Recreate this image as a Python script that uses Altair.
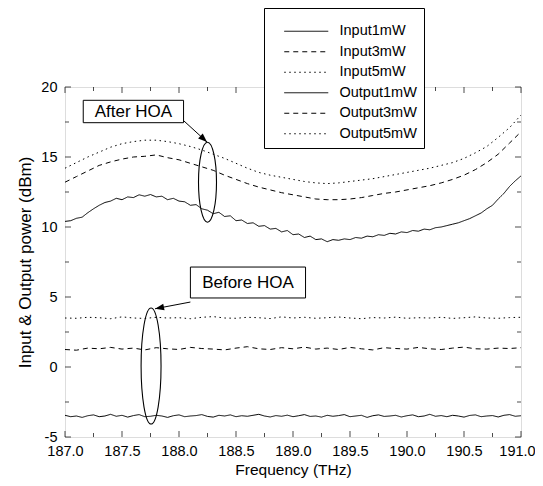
import altair as alt
import pandas as pd

# ---------------- data ----------------
freq_fine = [187.00, 187.05, 187.10, 187.15, 187.20, 187.25, 187.30, 187.35, 187.40, 187.45,
             187.50, 187.55, 187.60, 187.65, 187.70, 187.75, 187.80, 187.85, 187.90, 187.95,
             188.00, 188.05, 188.10, 188.15, 188.20, 188.25, 188.30, 188.35, 188.40, 188.45,
             188.50, 188.55, 188.60, 188.65, 188.70, 188.75, 188.80, 188.85, 188.90, 188.95,
             189.00, 189.05, 189.10, 189.15, 189.20, 189.25, 189.30, 189.35, 189.40, 189.45,
             189.50, 189.55, 189.60, 189.65, 189.70, 189.75, 189.80, 189.85, 189.90, 189.95,
             190.00, 190.05, 190.10, 190.15, 190.20, 190.25, 190.30, 190.35, 190.40, 190.45,
             190.50, 190.55, 190.60, 190.65, 190.70, 190.75, 190.80, 190.85, 190.90, 190.95,
             191.00]

freq_coarse = [187.0, 187.1, 187.2, 187.3, 187.4, 187.5, 187.6, 187.7, 187.8, 187.9,
               188.0, 188.1, 188.2, 188.3, 188.4, 188.5, 188.6, 188.7, 188.8, 188.9,
               189.0, 189.1, 189.2, 189.3, 189.4, 189.5, 189.6, 189.7, 189.8, 189.9,
               190.0, 190.1, 190.2, 190.3, 190.4, 190.5, 190.6, 190.7, 190.8, 190.9,
               191.0]

input_1mw = [-3.45, -3.55, -3.50, -3.60, -3.48, -3.42, -3.55, -3.50, -3.38, -3.52,
             -3.45, -3.58, -3.47, -3.40, -3.55, -3.52, -3.45, -3.50, -3.60, -3.48,
             -3.42, -3.55, -3.50, -3.47, -3.40, -3.53, -3.58, -3.45, -3.50, -3.42,
             -3.55, -3.48, -3.52, -3.45, -3.38, -3.50, -3.57, -3.47, -3.52, -3.44,
             -3.55, -3.48, -3.40, -3.53, -3.50, -3.58, -3.45, -3.52, -3.47, -3.40,
             -3.55, -3.50, -3.45, -3.60, -3.48, -3.42, -3.53, -3.50, -3.45, -3.57,
             -3.48, -3.42, -3.55, -3.50, -3.38, -3.52, -3.47, -3.55, -3.45, -3.50,
             -3.58, -3.46, -3.42, -3.55, -3.50, -3.47, -3.57, -3.45, -3.40, -3.52,
             -3.48]

output_1mw = [10.40, 10.45, 10.62, 10.70, 11.02, 11.30, 11.55, 11.75, 11.85, 12.05,
              11.95, 12.15, 12.10, 12.30, 12.20, 12.32, 12.15, 12.20, 11.95, 12.05,
              11.85, 11.80, 11.55, 11.60, 11.30, 11.20, 10.95, 11.05, 10.75, 10.80,
              10.45, 10.50, 10.25, 10.30, 10.05, 10.10, 9.85, 9.90, 9.65, 9.75,
              9.45, 9.50, 9.25, 9.35, 9.10, 9.15, 8.95, 9.10, 9.05, 9.15,
              9.10, 9.25, 9.20, 9.35, 9.30, 9.45, 9.40, 9.55, 9.50, 9.65,
              9.60, 9.75, 9.70, 9.85, 9.80, 9.95, 10.00, 10.10, 10.20, 10.30,
              10.45, 10.60, 10.80, 11.00, 11.30, 11.55, 12.00, 12.40, 12.90, 13.30,
              13.65]

input_3mw = [1.25, 1.20, 1.35, 1.30, 1.40, 1.28, 1.35, 1.22, 1.38, 1.30,
             1.25, 1.40, 1.32, 1.28, 1.22, 1.35, 1.45, 1.30, 1.25, 1.38,
             1.30, 1.42, 1.28, 1.35, 1.25, 1.40, 1.30, 1.22, 1.38, 1.32,
             1.28, 1.40, 1.30, 1.25, 1.35, 1.42, 1.30, 1.28, 1.35, 1.32,
             1.38]

input_5mw = [3.50, 3.48, 3.55, 3.52, 3.45, 3.58, 3.50, 3.47, 3.55, 3.50,
             3.52, 3.45, 3.55, 3.60, 3.50, 3.48, 3.55, 3.52, 3.46, 3.58,
             3.50, 3.55, 3.48, 3.52, 3.57, 3.50, 3.45, 3.53, 3.50, 3.56,
             3.48, 3.52, 3.50, 3.55, 3.47, 3.52, 3.58, 3.50, 3.48, 3.53,
             3.55]

output_3mw = [13.2, 13.6, 14.0, 14.4, 14.65, 14.85, 15.0, 15.05, 15.15, 14.95,
              14.8, 14.55, 14.3, 14.05, 13.7, 13.4, 13.1, 12.85, 12.65, 12.45,
              12.3, 12.15, 12.0, 11.95, 11.95, 12.0, 12.1, 12.25, 12.4, 12.5,
              12.65, 12.8, 12.95, 13.15, 13.4, 13.7, 14.1, 14.6, 15.2, 16.0,
              16.8]

output_5mw = [14.2, 14.6, 15.0, 15.35, 15.7, 15.95, 16.1, 16.2, 16.2, 16.1,
              15.95, 15.75, 15.5, 15.2, 14.9, 14.55, 14.2, 13.9, 13.7, 13.55,
              13.4, 13.25, 13.15, 13.1, 13.15, 13.25, 13.35, 13.45, 13.6, 13.75,
              13.9, 14.05, 14.2, 14.4, 14.6, 14.9, 15.3, 15.75, 16.4, 17.1,
              18.0]

series_order = ["Input1mW", "Input3mW", "Input5mW", "Output1mW", "Output3mW", "Output5mW"]

x_major = [187.0, 187.5, 188.0, 188.5, 189.0, 189.5, 190.0, 190.5, 191.0]
x_minor = [187.25, 187.75, 188.25, 188.75, 189.25, 189.75, 190.25, 190.75]
y_major = [-5, 0, 5, 10, 15, 20]
y_minor = [-2.5, 2.5, 7.5, 12.5, 17.5]

# annotations (data coordinates)
box_labels = ["After HOA", "Before HOA"]
box_x0 = [187.16, 188.10]
box_x1 = [188.04, 189.11]
box_y0 = [17.45, 4.93]
box_y1 = [19.05, 7.14]

ellipse_x = [188.25, 187.755]
ellipse_y = [13.2, 0.07]

arrow_x0 = [188.04, 188.10]
arrow_y0 = [17.6, 4.64]
arrow_x1 = [188.246, 187.79]
arrow_y1 = [16.07, 4.16]

# ---------------- build table ----------------
rows = []
for name, xs, vals in [("Input1mW", freq_fine, input_1mw),
                       ("Output1mW", freq_fine, output_1mw),
                       ("Input3mW", freq_coarse, input_3mw),
                       ("Input5mW", freq_coarse, input_5mw),
                       ("Output3mW", freq_coarse, output_3mw),
                       ("Output5mW", freq_coarse, output_5mw)]:
    for f, v in zip(xs, vals):
        rows.append({"freq": f, "power": v, "series": name})
df = pd.DataFrame(rows)

FONT = "Liberation Sans"
XT = "Frequency (THz)"
YT = "Input & Output power (dBm)"

xscale = alt.Scale(domain=[187, 191], nice=False, zero=False)
yscale = alt.Scale(domain=[-5, 20], nice=False, zero=False)

xaxis = alt.Axis(values=x_major, labelExpr="format(datum.value, '.1f')", labelFlush=False,
                 labelOverlap=False, labelPadding=7, tickSize=0, ticks=False, domain=False,
                 grid=False, labelFont=FONT, labelFontSize=14.5, labelColor="black",
                 labelOffset={"condition": {"test": "datum.value == 191", "value": -4}, "value": 0},
                 titleFont=FONT, titleY=32, titleBaseline="middle", titleFontSize=15.5,
                 titleFontWeight="normal", titleColor="black")
yaxis = alt.Axis(values=y_major, labelExpr="'' + datum.value", labelFlush=False,
                 labelOverlap=False, labelPadding=8, tickSize=0, ticks=False, domain=False,
                 grid=False, labelFont=FONT, labelFontSize=14.5, labelColor="black",
                 titleFont=FONT, titleX=-40, titleY=175, titleAngle=270, titleAlign="center",
                 titleBaseline="middle", titleFontSize=17, titleFontWeight="normal",
                 titleColor="black")


def X(field):
    return alt.X(field, type="quantitative", scale=xscale, axis=xaxis, title=XT)


def Y(field):
    return alt.Y(field, type="quantitative", scale=yscale, axis=yaxis, title=YT)


dash_range = [[1, 0], [5, 4], [1.5, 3.5], [1, 0], [5, 4], [1.5, 3.5]]

lines = alt.Chart(df).mark_line(color="black", strokeWidth=1).encode(
    x=X("freq"),
    y=Y("power"),
    detail="series:N",
    strokeDash=alt.StrokeDash(
        "series:N",
        scale=alt.Scale(domain=series_order, range=dash_range),
        legend=alt.Legend(
            title=" ", titleFontSize=6, titlePadding=3,
            orient="none", legendX=199, legendY=-79,
            strokeColor="black", fillColor="white", padding=7,
            symbolType="M-4,0 L4,0", symbolSize=121, symbolStrokeWidth=1,
            symbolStrokeColor="black", symbolFillColor="transparent",
            labelFontSize=14.5, labelFont=FONT, labelColor="black",
            labelOffset=26, symbolOffset=28, rowPadding=5.5,
            labelExpr="datum.label + ' '",
        ),
    ),
)

# inward ticks
xmaj_df = pd.DataFrame({"freq": x_major})
xmin_df = pd.DataFrame({"freq": x_minor})
ymaj_df = pd.DataFrame({"power": y_major})
ymin_df = pd.DataFrame({"power": y_minor})

tick_layers = [
    alt.Chart(xmaj_df).mark_tick(orient="vertical", size=6, thickness=1, yOffset=-3, color="black").encode(x=X("freq"), y=alt.datum(-5)),
    alt.Chart(xmaj_df).mark_tick(orient="vertical", size=6, thickness=1, yOffset=3, color="black").encode(x=X("freq"), y=alt.datum(20)),
    alt.Chart(xmin_df).mark_tick(orient="vertical", size=4, thickness=1, yOffset=-2, color="black").encode(x=X("freq"), y=alt.datum(-5)),
    alt.Chart(xmin_df).mark_tick(orient="vertical", size=4, thickness=1, yOffset=2, color="black").encode(x=X("freq"), y=alt.datum(20)),
    alt.Chart(ymaj_df).mark_tick(orient="horizontal", size=6, thickness=1, xOffset=3, color="black").encode(y=Y("power"), x=alt.datum(187)),
    alt.Chart(ymaj_df).mark_tick(orient="horizontal", size=6, thickness=1, xOffset=-3, color="black").encode(y=Y("power"), x=alt.datum(191)),
    alt.Chart(ymin_df).mark_tick(orient="horizontal", size=4, thickness=1, xOffset=2, color="black").encode(y=Y("power"), x=alt.datum(187)),
    alt.Chart(ymin_df).mark_tick(orient="horizontal", size=4, thickness=1, xOffset=-2, color="black").encode(y=Y("power"), x=alt.datum(191)),
]

# annotation boxes
box_df = pd.DataFrame({"label": box_labels, "freq": box_x0, "freq2": box_x1,
                       "power": box_y0, "power2": box_y1})
box_df["cx"] = (box_df["freq"] + box_df["freq2"]) / 2
box_df["cy"] = (box_df["power"] + box_df["power2"]) / 2

boxes = alt.Chart(box_df).mark_rect(fill="white", stroke="black", strokeWidth=1).encode(
    x=X("freq"), x2=alt.X2("freq2", title=XT), y=Y("power"), y2=alt.Y2("power2", title=YT))
box_text = alt.Chart(box_df).mark_text(font=FONT, fontSize=17, color="black", baseline="middle").encode(
    x=X("cx"), y=Y("cy"), text="label:N")


def ellipse_path(a):
    k = 0.5523
    return (f"M0,-1 C{k*a:.4f},-1 {a:.4f},{-k:.4f} {a:.4f},0 "
            f"C{a:.4f},{k:.4f} {k*a:.4f},1 0,1 "
            f"C{-k*a:.4f},1 {-a:.4f},{k:.4f} {-a:.4f},0 "
            f"C{-a:.4f},{-k:.4f} {-k*a:.4f},-1 0,-1 Z")


ell1 = alt.Chart(pd.DataFrame({"freq": [ellipse_x[0]], "power": [ellipse_y[0]]})).mark_point(
    shape=ellipse_path(0.225), size=6400, filled=False, color="black", strokeWidth=1.1, opacity=1
).encode(x=X("freq"), y=Y("power"))
ell2 = alt.Chart(pd.DataFrame({"freq": [ellipse_x[1]], "power": [ellipse_y[1]]})).mark_point(
    shape=ellipse_path(0.172), size=13456, filled=False, color="black", strokeWidth=1.1, opacity=1
).encode(x=X("freq"), y=Y("power"))

arrow_df = pd.DataFrame({"freq": arrow_x0, "freq2": arrow_x1, "power": arrow_y0, "power2": arrow_y1})
arrow_lines = alt.Chart(arrow_df).mark_rule(color="black", strokeWidth=1).encode(
    x=X("freq"), x2=alt.X2("freq2", title=XT), y=Y("power"), y2=alt.Y2("power2", title=YT))
head_df = pd.DataFrame({"freq": arrow_x1, "power": arrow_y1, "angle": [132.5, 258.7]})
arrow_heads = alt.Chart(head_df).mark_point(
    shape="M0,0 L-0.38,1 L0.38,1 Z", size=324, filled=True, color="black", opacity=1
).encode(x=X("freq"), y=Y("power"),
         angle=alt.Angle("angle:Q", scale=alt.Scale(domain=[0, 360], range=[0, 360])))

chart = alt.layer(lines, *tick_layers, ell1, ell2, arrow_lines, arrow_heads, boxes, box_text).properties(
    width=456, height=350,
    autosize=alt.AutoSizeParams(type="none"),
    padding={"left": 57, "top": 79, "right": 14, "bottom": 41},
).configure_view(stroke="black", strokeWidth=1.5).configure_axis(
    labelFont=FONT, titleFont=FONT, labelFontSize=14.5, labelColor="black",
    titleColor="black", titleFontWeight="normal",
).configure(background="white")

chart.save("out.html", embed_options={"renderer": "svg", "actions": False})
